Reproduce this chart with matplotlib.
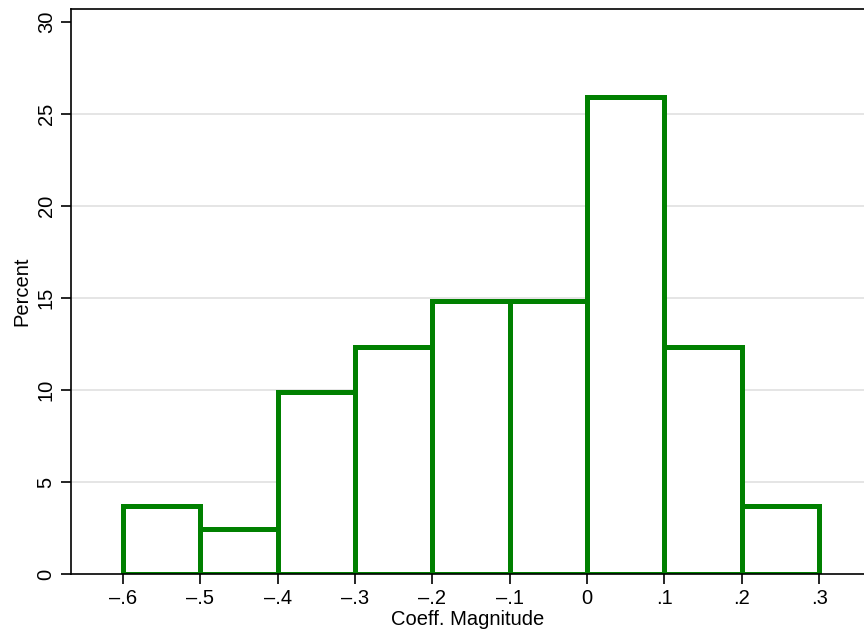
import matplotlib
matplotlib.use('Agg')
import matplotlib.pyplot as plt

# histogram of coefficient magnitudes, bin width .1
bin_left = [-0.6, -0.5, -0.4, -0.3, -0.2, -0.1, 0.0, 0.1, 0.2]
percent = [3.70, 2.47, 9.88, 12.35, 14.81, 14.81, 25.93, 12.35, 3.70]
xtick_vals = [-0.6, -0.5, -0.4, -0.3, -0.2, -0.1, 0.0, 0.1, 0.2, 0.3]
xtick_labels = ['\u2013.6', '\u2013.5', '\u2013.4', '\u2013.3', '\u2013.2', '\u2013.1', '0', '.1', '.2', '.3']
ytick_vals = [0, 5, 10, 15, 20, 25, 30]

plt.rcParams['font.family'] = ['Liberation Sans', 'DejaVu Sans']

fig = plt.figure(figsize=(8.64, 6.33), dpi=100)
ax = fig.add_axes([0.0822, 0.0932, 0.9178, 0.8926])

for y in ytick_vals[1:-1]:
    ax.axhline(y, color='#e3e3e3', lw=1.3, zorder=0)

ax.bar(bin_left, percent, width=0.1, align='edge', facecolor='white',
       edgecolor='#008000', linewidth=3.6, zorder=2)

ax.set_xlim(-0.6672, 0.358)
ax.set_ylim(0, 30.7)
ax.set_xticks(xtick_vals)
ax.set_xticklabels(xtick_labels)
ax.set_yticks(ytick_vals)
ax.set_yticklabels([str(v) for v in ytick_vals], rotation=90, va='center')
ax.tick_params(direction='out', length=7, width=1.2, labelsize=14.5, pad=4)

ax.spines['right'].set_visible(False)
for s in ['left', 'top', 'bottom']:
    ax.spines[s].set_linewidth(1.2)
    ax.spines[s].set_zorder(3)

ax.set_xlabel('Coeff. Magnitude', fontsize=14.5, labelpad=1)
ax.set_ylabel('Percent', fontsize=14.5, labelpad=4)

fig.savefig('out.png', dpi=100)
